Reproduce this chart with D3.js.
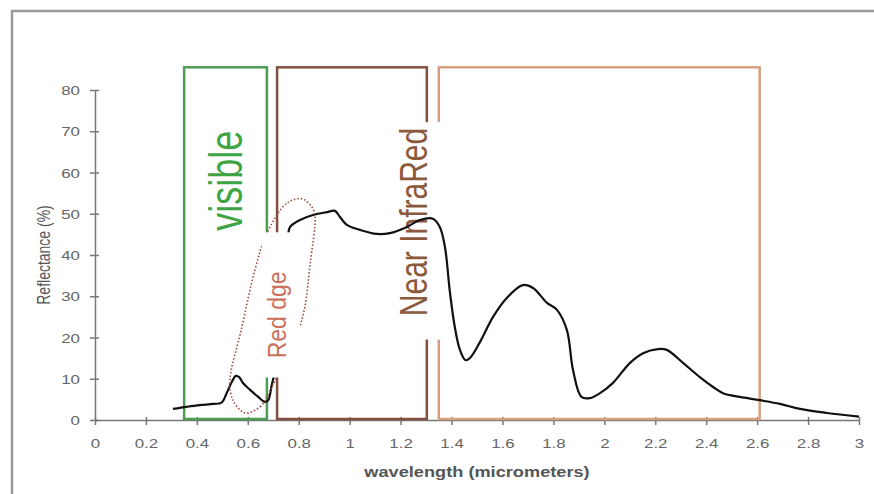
<!DOCTYPE html>
<html>
<head>
<meta charset="utf-8">
<script src="https://cdn.jsdelivr.net/npm/d3@7"></script>
<style>
  body { margin: 0; background: #fff; }
  svg { display: block; }
  text { font-family: "Liberation Sans", Arial, sans-serif; }
</style>
</head>
<body>
<div id="chart"></div>
<script>
// spectral reflectance curve
var wavelength = [0.306, 0.36, 0.41, 0.465, 0.497, 0.517, 0.537, 0.553, 0.566, 0.582, 0.609, 0.641, 0.667,
  0.68, 0.694, 0.703, 0.715, 0.73, 0.745, 0.758, 0.766, 0.805, 0.856, 0.911, 0.942, 0.962, 0.989,
  1.04, 1.107, 1.158, 1.225, 1.276, 1.327, 1.354, 1.374, 1.394, 1.413, 1.433, 1.455, 1.472, 1.51,
  1.563, 1.617, 1.68, 1.72, 1.775, 1.814, 1.853, 1.877, 1.91, 1.943, 1.983, 2.034, 2.1, 2.152,
  2.21, 2.245, 2.31, 2.375, 2.427, 2.466, 2.532, 2.61, 2.69, 2.768, 2.874, 3.0];
var reflectance = [2.7, 3.2, 3.6, 3.9, 4.2, 6.5, 9.2, 10.7, 10.4, 8.9, 7.3, 5.6, 4.4,
  4.8, 8.5, 11, 20, 33, 41, 44.8, 46.8, 48.5, 49.7, 50.4, 50.7, 49.2, 47.3,
  46.1, 45.1, 45.3, 46.8, 48.5, 48.8, 46.8, 42, 30.8, 22.5, 17, 14.5, 15, 18.7,
  25, 29.6, 32.7, 32, 28.4, 26.7, 21.8, 12.1, 5.6, 5.3, 6.5, 9, 13.8, 16.2,
  17.2, 17, 13.8, 10.4, 8, 6.5, 5.6, 4.8, 3.9, 2.7, 1.7, 0.8];

var xTicks = [0, 0.2, 0.4, 0.6, 0.8, 1, 1.2, 1.4, 1.6, 1.8, 2, 2.2, 2.4, 2.6, 2.8, 3];
var yTicks = [0, 10, 20, 30, 40, 50, 60, 70, 80];

// spectral bands (wavelength, micrometers)
var bandStart = [0.35, 0.715, 1.35];
var bandEnd = [0.675, 1.303, 2.61];
var bandTop = 85.5;

// dotted "red edge" loop (wavelength, reflectance)
var loopW = [0.589, 0.648, 0.675, 0.74, 0.80, 0.824, 0.845, 0.864, 0.852, 0.813, 0.754, 0.675, 0.628, 0.575, 0.53, 0.542];
var loopR = [1.7, 3.2, 5.6, 14, 22, 27.4, 38, 49.2, 51.6, 53.6, 52.6, 45.3, 36.4, 22, 9.7, 4.8];

// label backgrounds (wavelength from/to, reflectance from/to)
var redEdgeBox = [0.655, 0.805, 10.3, 45.5];
var nirBox = [1.19, 1.362, 19.5, 72.2];

var SX = 1.3; // the picture is stretched sideways

var width = 874, height = 494;
var svg = d3.select("#chart").append("svg")
  .attr("width", width)
  .attr("height", height);

var x = d3.scaleLinear().domain([0, 3]).range([95, 859]);
var y = d3.scaleLinear().domain([0, 80]).range([420, 90]);

// outer frame
svg.append("rect")
  .attr("x", 12).attr("y", 11)
  .attr("width", 900).attr("height", 500)
  .attr("fill", "none")
  .attr("stroke", "#9a9a9a")
  .attr("stroke-width", 2.5);

// x axis
var xAxis = d3.axisBottom(x)
  .tickValues(xTicks)
  .tickSizeInner(5)
  .tickSizeOuter(0)
  .tickFormat(function(d) { return String(+d.toFixed(1)); });

var gx = svg.append("g")
  .attr("transform", "translate(0," + y(0) + ")")
  .call(xAxis);
gx.select(".domain").attr("stroke", "#777").attr("stroke-width", 1.5);
gx.selectAll(".tick line").attr("y1", -3).attr("y2", 5).attr("stroke", "#777").attr("stroke-width", 1.5);
gx.selectAll(".tick text")
  .attr("y", 28).attr("dy", null)
  .attr("transform", "scale(" + SX + ",1)")
  .attr("fill", "#666")
  .style("font-size", "13px");

// y axis
var yAxis = d3.axisLeft(y)
  .tickValues(yTicks)
  .tickSizeInner(5)
  .tickSizeOuter(0);

var gy = svg.append("g")
  .attr("transform", "translate(" + x(0) + ",0)")
  .call(yAxis);
gy.select(".domain").attr("stroke", "#777").attr("stroke-width", 1.5);
gy.selectAll(".tick line").attr("x1", 4).attr("x2", -5).attr("stroke", "#777").attr("stroke-width", 1.5);
gy.selectAll(".tick text")
  .attr("x", -15 / SX).attr("dy", "0.35em")
  .attr("transform", "scale(" + SX + ",1)")
  .attr("fill", "#666")
  .style("font-size", "13px");

// axis titles
svg.append("text")
  .attr("transform", "translate(" + x(1.5) + ",477) scale(" + SX + ",1)")
  .attr("text-anchor", "middle")
  .attr("fill", "#555")
  .style("font-size", "14px")
  .style("font-weight", "bold")
  .text("wavelength (micrometers)");

svg.append("text")
  .attr("transform", "translate(50," + y(40) + ") scale(" + SX + ",1) rotate(-90)")
  .attr("text-anchor", "middle")
  .attr("fill", "#555")
  .style("font-size", "14px")
  .text("Reflectance (%)");

// band boxes
var bandColors = ["#4b9d52", "#80523d", "#d7a07f"];
svg.selectAll(".band")
  .data(bandStart)
  .enter().append("rect")
  .attr("class", "band")
  .attr("x", function(d) { return x(d); })
  .attr("y", y(bandTop))
  .attr("width", function(d, i) { return x(bandEnd[i]) - x(d); })
  .attr("height", y(0) - y(bandTop) - 1)
  .attr("fill", "none")
  .attr("stroke", function(d, i) { return bandColors[i]; })
  .attr("stroke-width", 2.5);

// "visible" label
svg.append("text")
  .attr("transform", "translate(" + x(0.577) + "," + y(58) + ") scale(" + SX + ",1) rotate(-90)")
  .attr("text-anchor", "middle")
  .attr("fill", "#3fa544")
  .style("font-size", "36px")
  .text("visible");

// near infrared label with its white backing
svg.append("rect")
  .attr("x", x(nirBox[0])).attr("y", y(nirBox[3]))
  .attr("width", x(nirBox[1]) - x(nirBox[0]))
  .attr("height", y(nirBox[2]) - y(nirBox[3]))
  .attr("fill", "#fff");
svg.append("text")
  .attr("transform", "translate(" + x(1.303) + "," + y(48) + ") scale(" + SX + ",1) rotate(-90)")
  .attr("text-anchor", "middle")
  .attr("fill", "#8b5a3c")
  .style("font-size", "30px")
  .text("Near InfraRed");

// reflectance curve
var line = d3.line()
  .x(function(d, i) { return x(wavelength[i]); })
  .y(function(d) { return y(d); })
  .curve(d3.curveCatmullRom.alpha(0.5));

svg.append("path")
  .datum(reflectance)
  .attr("d", line)
  .attr("fill", "none")
  .attr("stroke", "#111")
  .attr("stroke-width", 2.2)
  .attr("stroke-linejoin", "round");

// dotted red-edge loop
var loop = d3.line()
  .x(function(d, i) { return x(loopW[i]); })
  .y(function(d) { return y(d); })
  .curve(d3.curveCatmullRomClosed.alpha(0.5));

svg.append("path")
  .datum(loopR)
  .attr("d", loop)
  .attr("fill", "none")
  .attr("stroke", "#9c4a3e")
  .attr("stroke-width", 1.6)
  .attr("stroke-dasharray", "1.5,2");

// red edge label with its white backing
svg.append("rect")
  .attr("x", x(redEdgeBox[0])).attr("y", y(redEdgeBox[3]))
  .attr("width", x(redEdgeBox[1]) - x(redEdgeBox[0]))
  .attr("height", y(redEdgeBox[2]) - y(redEdgeBox[3]))
  .attr("fill", "#fff");
svg.append("text")
  .attr("transform", "translate(" + x(0.75) + "," + y(25.5) + ") scale(1.15,1) rotate(-90)")
  .attr("text-anchor", "middle")
  .attr("fill", "#cc7058")
  .style("font-size", "23px")
  .text("Red dge");
</script>
</body>
</html>
